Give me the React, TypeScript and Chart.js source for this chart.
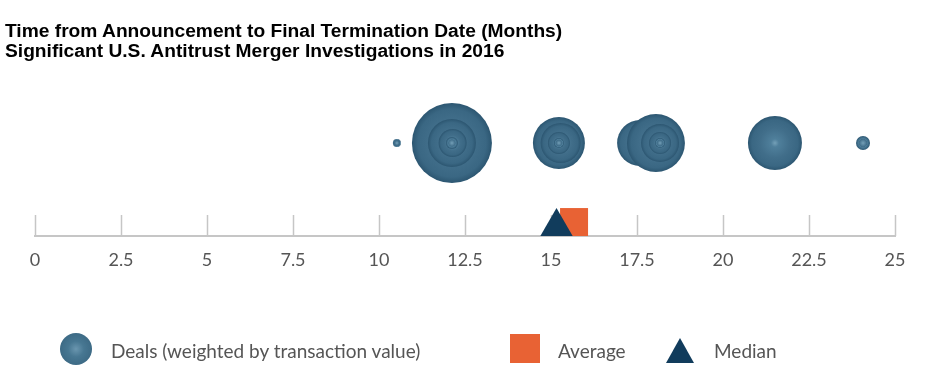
import React, { useEffect, useRef } from "react";
import Chart from "chart.js/auto";

// Deals: months from announcement to final termination, and bubble size (weighted by transaction value)
const DEAL_MONTHS = [10.52, 12.12, 12.12, 12.14, 12.12, 15.23, 15.28, 15.23, 15.23, 17.59, 18.05, 18.17, 18.17, 18.17, 21.51, 24.07];
const DEAL_SIZES = [4, 40, 24, 14, 6, 26, 20, 11, 5, 23, 29, 19, 11, 5, 27, 7];
const AVERAGE_MONTHS = [15.67];
const MEDIAN_MONTHS = [15.16];
const X_TICKS = [0, 2.5, 5, 7.5, 10, 12.5, 15, 17.5, 20, 22.5, 25];

const TITLE_LINES = [
  "Time from Announcement to Final Termination Date (Months)",
  "Significant U.S. Antitrust Merger Investigations in 2016",
];
const LEGEND_LABELS = ["Deals (weighted by transaction value)", "Average", "Median"];

const BUBBLE = "#3e6a86";
const ORANGE = "#e86234";
const NAVY = "#113c5c";
const AXIS = "#c6c6c6";
const TEXT = "#555555";
const FONT = "Lato, 'Open Sans', sans-serif";

const tickMarks = {
  id: "tickMarks",
  beforeDatasetsDraw(chart: any) {
    const { ctx, chartArea } = chart;
    const x = chart.scales.x;
    ctx.save();
    ctx.strokeStyle = AXIS;
    ctx.lineWidth = 1.5;
    X_TICKS.forEach((v) => {
      const px = Math.round(x.getPixelForValue(v)) + 0.5;
      ctx.beginPath();
      ctx.moveTo(px, chartArea.bottom - 21);
      ctx.lineTo(px, chartArea.bottom);
      ctx.stroke();
    });
    ctx.restore();
  },
};

function bubbleFill(ctx: any) {
  const chart = ctx.chart;
  const raw = ctx.raw;
  if (!chart.chartArea || !raw || !chart.scales.x) return BUBBLE;
  const px = chart.scales.x.getPixelForValue(raw.x);
  const py = chart.scales.y.getPixelForValue(raw.y);
  const r = Math.max(raw.r, 1);
  const g = chart.ctx.createRadialGradient(px, py, 0, px, py, r);
  g.addColorStop(0, "#74a0b8");
  g.addColorStop(Math.min(0.9, 4 / r), "#4f7f9b");
  g.addColorStop(0.55, "#416e8a");
  g.addColorStop(0.85, "#3a6783");
  g.addColorStop(1, "#2c5671");
  return g;
}

export default function App() {
  const canvasRef = useRef<HTMLCanvasElement | null>(null);

  useEffect(() => {
    if (!canvasRef.current) return;
    const chart = new Chart(canvasRef.current, {
      type: "bubble",
      data: {
        datasets: [
          {
            label: LEGEND_LABELS[0],
            data: DEAL_MONTHS.map((m, i) => ({ x: m, y: 0.5, r: DEAL_SIZES[i] })),
            backgroundColor: bubbleFill as any,
            borderWidth: 0,
            hoverRadius: 0,
          },
          {
            label: LEGEND_LABELS[2],
            data: MEDIAN_MONTHS.map((m) => ({ x: m, y: 0.05, r: 18.7 })),
            pointStyle: "triangle",
            backgroundColor: NAVY,
            borderWidth: 0,
          },
          {
            label: LEGEND_LABELS[1],
            data: AVERAGE_MONTHS.map((m) => ({ x: m, y: 0.075, r: 19.8 })),
            pointStyle: "rect",
            backgroundColor: ORANGE,
            borderWidth: 0,
          },
        ],
      },
      options: {
        responsive: false,
        devicePixelRatio: 1,
        animation: false,
        events: [],
        layout: { autoPadding: false, padding: { left: 35, right: 41, top: 50, bottom: 116 } },
        plugins: {
          legend: { display: false },
          tooltip: { enabled: false },
          title: { display: false },
        },
        scales: {
          x: {
            type: "linear",
            min: 0,
            max: 25,
            afterBuildTicks: (scale: any) => {
              scale.ticks = X_TICKS.map((v) => ({ value: v }));
            },
            afterFit: (scale: any) => {
              scale.height = 40;
              scale.paddingLeft = 0;
              scale.paddingRight = 0;
            },
            grid: { display: false, drawTicks: false },
            border: { display: true, color: AXIS, width: 2 },
            ticks: {
              color: TEXT,
              padding: 13,
              maxRotation: 0,
              autoSkip: false,
              font: { family: FONT, size: 18 },
              callback: (v: any) => String(v),
            },
          },
          y: { display: false, min: 0, max: 1 },
        },
      },
      plugins: [tickMarks],
    });
    return () => chart.destroy();
  }, []);

  const legendText: React.CSSProperties = {
    position: "absolute",
    top: 350,
    transform: "translateY(-50%)",
    fontFamily: FONT,
    fontSize: 19,
    color: TEXT,
    whiteSpace: "nowrap",
  };

  return (
    <div style={{ position: "absolute", left: 0, top: 0, width: 936, height: 392, background: "#fff", overflow: "hidden" }}>
      <canvas ref={canvasRef} width={936} height={392} style={{ position: "absolute", left: 0, top: 0 }} />
      <div
        style={{
          position: "absolute",
          left: 5,
          top: 21,
          fontFamily: "'Liberation Sans', Arial, sans-serif",
          fontWeight: 700,
          fontSize: 19.2,
          lineHeight: "20px",
          color: "#000",
          whiteSpace: "nowrap",
        }}
      >
        {TITLE_LINES.map((t) => (
          <div key={t}>{t}</div>
        ))}
      </div>
      <div
        style={{
          position: "absolute",
          left: 60,
          top: 333,
          width: 32,
          height: 32,
          borderRadius: "50%",
          background: "radial-gradient(circle at 50% 50%, #6a96af 0%, #477792 35%, #3c6984 75%, #2e5873 100%)",
        }}
      />
      <div style={{ ...legendText, left: 111 }}>{LEGEND_LABELS[0]}</div>
      <div style={{ position: "absolute", left: 510, top: 334, width: 30, height: 29, background: ORANGE }} />
      <div style={{ ...legendText, left: 558 }}>{LEGEND_LABELS[1]}</div>
      <div
        style={{
          position: "absolute",
          left: 666,
          top: 338,
          width: 0,
          height: 0,
          borderLeft: "14.5px solid transparent",
          borderRight: "14.5px solid transparent",
          borderBottom: `25px solid ${NAVY}`,
        }}
      />
      <div style={{ ...legendText, left: 714 }}>{LEGEND_LABELS[2]}</div>
    </div>
  );
}
